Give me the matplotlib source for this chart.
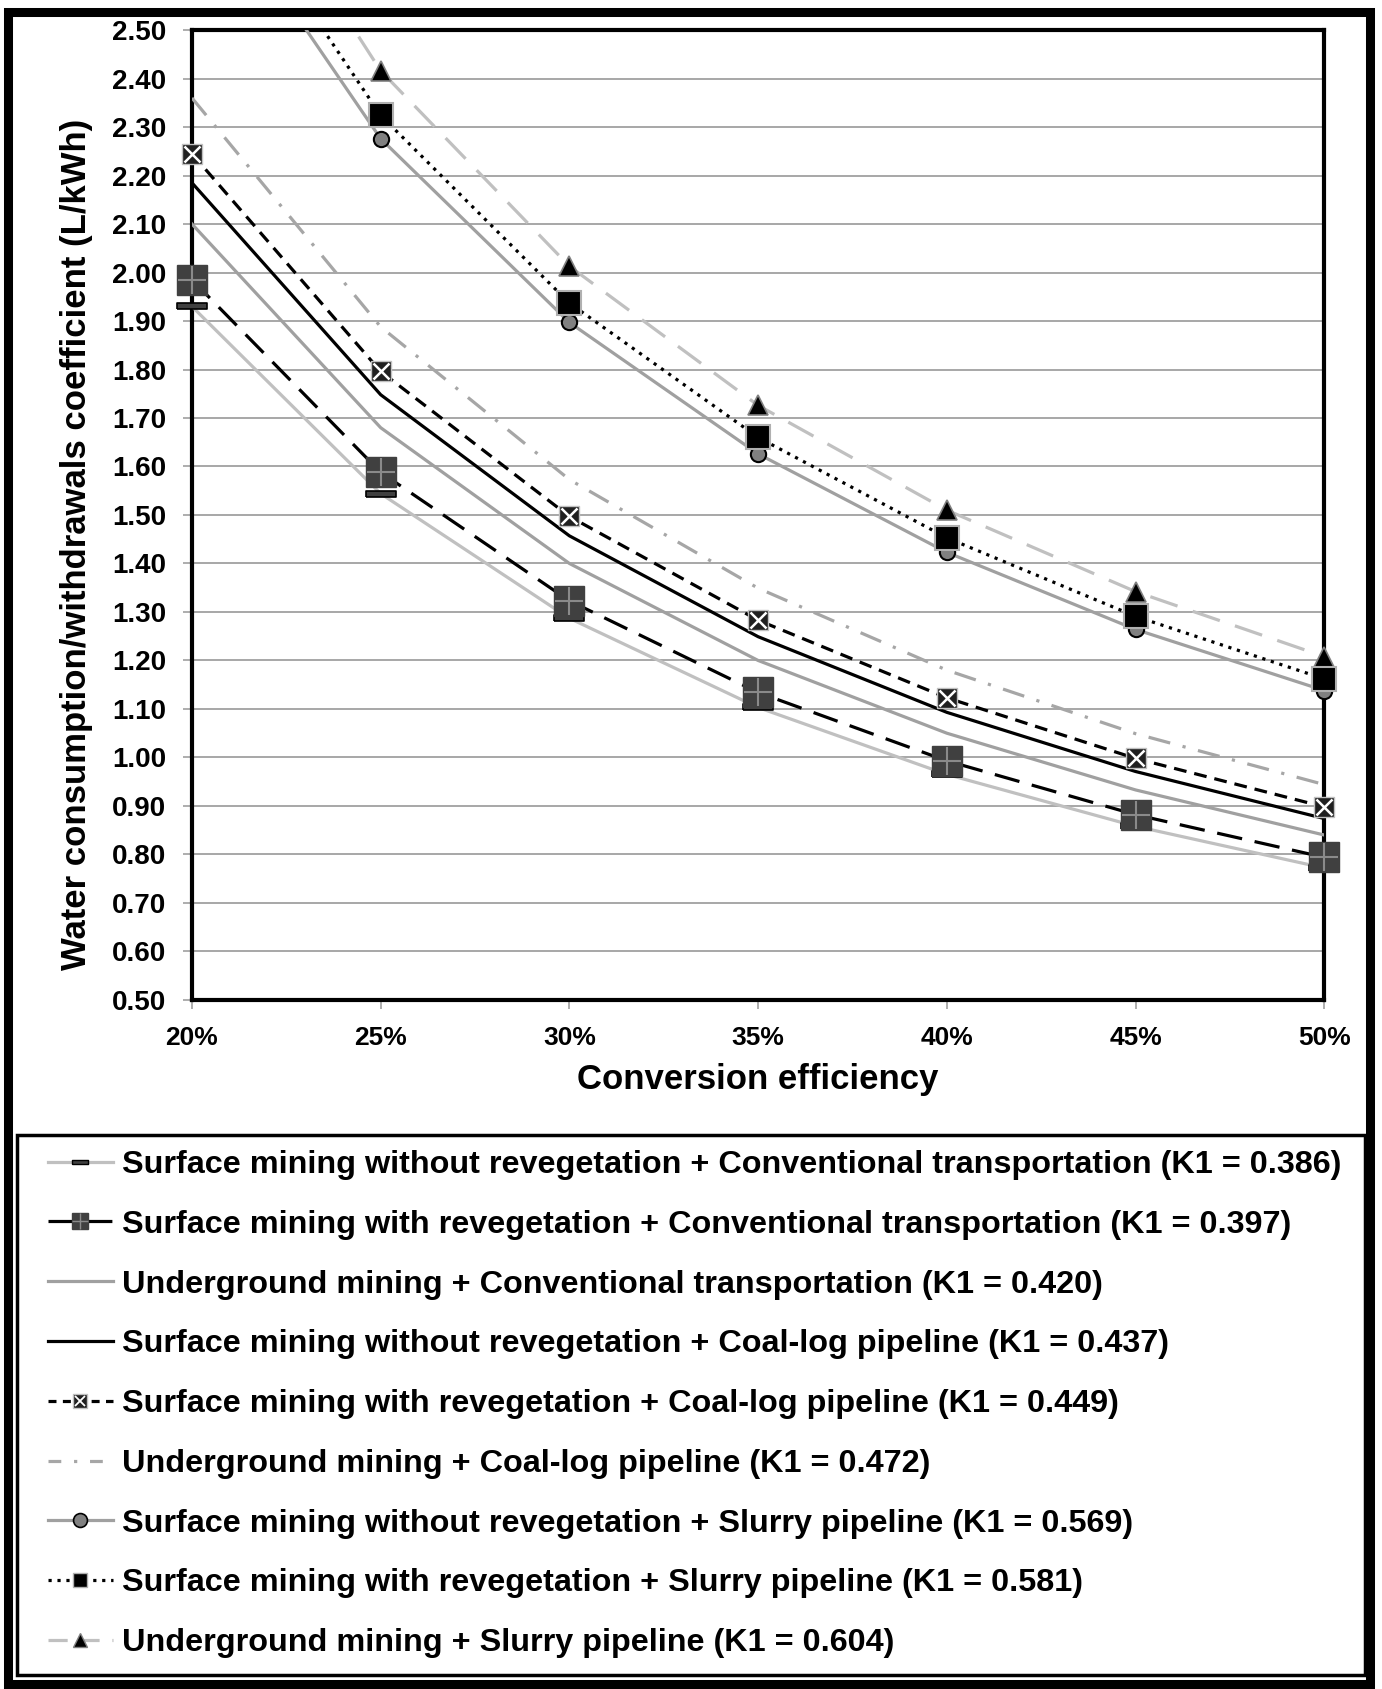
import matplotlib
matplotlib.use("Agg")
import matplotlib.pyplot as plt
import numpy as np
from matplotlib.lines import Line2D
from matplotlib.patches import Rectangle
from matplotlib.ticker import FuncFormatter, MultipleLocator

plt.rcParams['font.family'] = ['Liberation Sans', 'DejaVu Sans']
plt.rcParams['font.weight'] = 'bold'

# -------------------------------
# Data
# -------------------------------
efficiency = [20, 25, 30, 35, 40, 45, 50]

smwr_conv = [1.930, 1.544, 1.287, 1.103, 0.965, 0.858, 0.772]
smr_conv = [1.985, 1.588, 1.323, 1.134, 0.993, 0.882, 0.794]
ug_conv = [2.100, 1.680, 1.400, 1.200, 1.050, 0.933, 0.840]
smwr_log = [2.185, 1.748, 1.457, 1.249, 1.093, 0.971, 0.874]
smr_log = [2.245, 1.796, 1.497, 1.283, 1.123, 0.998, 0.898]
ug_log = [2.360, 1.888, 1.573, 1.349, 1.180, 1.049, 0.944]
smwr_slurry = [2.845, 2.276, 1.897, 1.626, 1.423, 1.264, 1.138]
smr_slurry = [2.905, 2.324, 1.937, 1.660, 1.453, 1.291, 1.162]
ug_slurry = [3.020, 2.416, 2.013, 1.726, 1.510, 1.342, 1.208]

labels = [
    "Surface mining without revegetation + Conventional transportation (K1 = 0.386)",
    "Surface mining with revegetation + Conventional transportation (K1 = 0.397)",
    "Underground mining + Conventional transportation (K1 = 0.420)",
    "Surface mining without revegetation + Coal-log pipeline (K1 = 0.437)",
    "Surface mining with revegetation + Coal-log pipeline (K1 = 0.449)",
    "Underground mining + Coal-log pipeline (K1 = 0.472)",
    "Surface mining without revegetation + Slurry pipeline (K1 = 0.569)",
    "Surface mining with revegetation + Slurry pipeline (K1 = 0.581)",
    "Underground mining + Slurry pipeline (K1 = 0.604)",
]

Y_MIN, Y_MAX = 0.5, 2.5

# -------------------------------
# Figure
# -------------------------------
fig = plt.figure(figsize=(13.82, 16.89), dpi=100)
ax = fig.add_axes([0.1389, 0.408, 0.8193, 0.5742])

lw = 2.3
bar_marker = [(-1, -0.22), (1, -0.22), (1, 0.22), (-1, 0.22), (-1, -0.22)]


def in_range(vals):
    # markers only for points inside the y range (markers are not clipped)
    v = np.array(vals, dtype=float)
    return np.where(v <= Y_MAX, v, np.nan)


def series(y, line_kw, marker_kws=()):
    ax.plot(efficiency, y, lw=lw, zorder=3, **line_kw)
    for mk in marker_kws:
        ax.plot(efficiency, in_range(y), ls="none", clip_on=False, **mk)


# 1
series(smwr_conv, dict(color="#c0c0c0"),
       [dict(marker=bar_marker, ms=22, mfc="#404040", mec="black", mew=1.2, zorder=6)])
# 2
series(smr_conv, dict(color="black", dashes=(8, 4)),
       [dict(marker="s", ms=21, mfc="#404040", mec="#404040", zorder=6),
        dict(marker="+", ms=20, mec="#8a8a8a", mew=1.5, zorder=7)])
# 3
series(ug_conv, dict(color="#a0a0a0"))
# 4
series(smwr_log, dict(color="black"))
# 5
series(smr_log, dict(color="black", dashes=(4, 2.5)),
       [dict(marker="s", ms=14, mfc="#202020", mec="#c0c0c0", mew=1, zorder=6),
        dict(marker="x", ms=11, mec="white", mew=1.8, zorder=7)])
# 6
series(ug_log, dict(color="#a6a6a6", dashes=(7, 4, 1, 4)))
# 7
series(smwr_slurry, dict(color="#a0a0a0"),
       [dict(marker="o", ms=11, mfc="#808080", mec="black", mew=1.5, zorder=6)])
# 8
series(smr_slurry, dict(color="black", dashes=(1, 1.8)),
       [dict(marker="s", ms=17, mfc="black", mec="#b0b0b0", mew=1.5, zorder=7)])
# 9
series(ug_slurry, dict(color="#c0c0c0", dashes=(9, 5)),
       [dict(marker="^", ms=15, mfc="black", mec="#808080", mew=1.2, zorder=6)])

ax.set_xlim(20, 50)
ax.set_ylim(Y_MIN, Y_MAX)
ax.set_xticks(efficiency)
ax.xaxis.set_major_formatter(FuncFormatter(lambda v, p: "%d%%" % v))
ax.yaxis.set_major_locator(MultipleLocator(0.1))
ax.yaxis.set_major_formatter(FuncFormatter(lambda v, p: "%.2f" % v))
ax.tick_params(axis="both", length=6.5, width=1.2, color="#a0a0a0")
ax.tick_params(axis="y", labelsize=20, pad=12)
ax.tick_params(axis="x", labelsize=19, pad=12)
ax.grid(axis="y", color="#a0a0a0", lw=1.3)
ax.set_axisbelow(True)
for s in ax.spines.values():
    s.set_linewidth(3)
    s.set_color("black")

ax.set_xlabel("Conversion efficiency", fontsize=25, fontweight="bold", labelpad=10)
ax.set_ylabel("Water consumption/withdrawals coefficient (L/kWh)", fontsize=25,
              fontweight="bold", labelpad=14)
ax.yaxis.label.set_y(0.47)

# -------------------------------
# Legend (proxy handles, smaller markers like the original)
# -------------------------------
h = [
    Line2D([], [], color="#c0c0c0", lw=lw, marker=bar_marker, ms=11,
           mfc="#404040", mec="black", mew=1),
    (Line2D([], [], color="black", lw=lw, dashes=(8, 4), marker="s", ms=11,
            mfc="#404040", mec="#404040"),
     Line2D([], [], ls="none", marker="+", ms=11, mec="#8a8a8a", mew=1)),
    Line2D([], [], color="#a0a0a0", lw=lw),
    Line2D([], [], color="black", lw=lw),
    (Line2D([], [], color="black", lw=lw, dashes=(2.5, 2), marker="s", ms=10,
            mfc="#202020", mec="#c0c0c0", mew=1),
     Line2D([], [], ls="none", marker="x", ms=7.5, mec="white", mew=1.3)),
    Line2D([], [], color="#a6a6a6", lw=lw, dashes=(4, 4, 1, 4)),
    Line2D([], [], color="#a0a0a0", lw=lw, marker="o", ms=10, mfc="#808080",
           mec="black", mew=1.2),
    Line2D([], [], color="black", lw=lw, dashes=(1, 1.8), marker="s", ms=10,
           mfc="black", mec="#b0b0b0", mew=1),
    Line2D([], [], color="#c0c0c0", lw=lw, dashes=(6, 4), marker="^", ms=10,
           mfc="black", mec="#808080", mew=1),
]

fig.patches.append(Rectangle((17 / 1382, 1 - 1675 / 1689), 1348 / 1382, 540 / 1689,
                             transform=fig.transFigure, fill=False, ec="black", lw=2.5))
fig.patches.append(Rectangle((8 / 1382, 1 - 1684 / 1689), 1362 / 1382, 1672 / 1689,
                             transform=fig.transFigure, fill=False, ec="black", lw=6.5))

fig.legend(h, labels, loc="upper left", bbox_to_anchor=(48 / 1382, 1 - 1150 / 1689),
           frameon=False, handlelength=2.0, handletextpad=0.28,
           labelspacing=0.92, borderaxespad=0, borderpad=0,
           prop={"weight": "bold", "size": 23.3})

fig.savefig("out.png", dpi=100)
